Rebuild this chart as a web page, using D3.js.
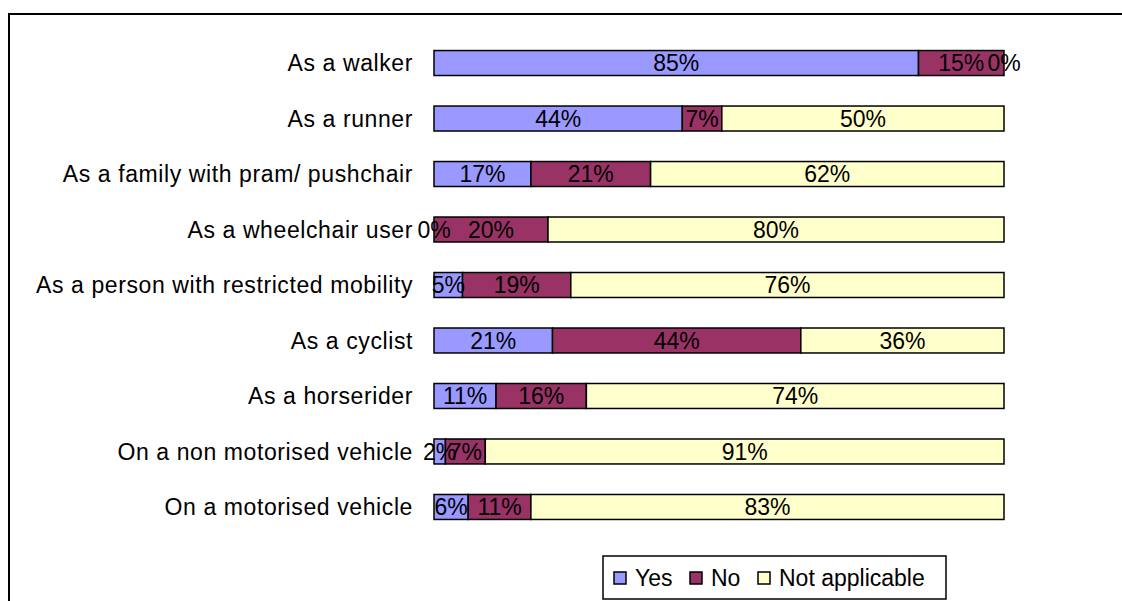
<!DOCTYPE html>
<html>
<head>
<meta charset="utf-8">
<script src="https://cdn.jsdelivr.net/npm/d3@7"></script>
<style>
  body { margin: 0; background: #fff; }
  text { font-family: "Liberation Sans", Arial, sans-serif; }
</style>
</head>
<body>
<svg id="chart" width="1122" height="601"></svg>
<script>
const categories = [
    "As a walker",
    "As a runner",
    "As a family with pram/ pushchair",
    "As a wheelchair user",
    "As a person with restricted mobility",
    "As a cyclist",
    "As a horserider",
    "On a non motorised vehicle",
    "On a motorised vehicle"
];
const yesValues = [85, 44, 17, 0, 5, 21, 11, 2, 6];
const noValues  = [15, 7, 21, 20, 19, 44, 16, 7, 11];
const naValues  = [0, 50, 62, 80, 76, 36, 74, 91, 83];
const seriesNames = ["Yes", "No", "Not applicable"];
const seriesColors = ["#9999FF", "#993366", "#FFFFCC"];

const fontSize = "23px";
const svg = d3.select("#chart");

// outer frame (runs off the right/bottom edge)
svg.append("rect")
    .attr("x", 9).attr("y", 14)
    .attr("width", 1140).attr("height", 620)
    .attr("fill", "none")
    .attr("stroke", "#000")
    .attr("stroke-width", 2);

const rows = categories.map((c, i) => {
    const vals = [yesValues[i], noValues[i], naValues[i]];
    const total = d3.sum(vals);
    let acc = 0;
    const segs = vals.map((v, k) => {
        const s = {cat: c, k: k, v: v, x0: acc / total, x1: (acc + v) / total};
        acc += v;
        return s;
    });
    return {cat: c, segs: segs};
});

const x = d3.scaleLinear().domain([0, 1]).range([434, 1004]);
const y = d3.scaleBand().domain(categories).range([35, 535]).paddingInner(0.55).paddingOuter(0.28);

// category labels
svg.selectAll(".cat-label")
    .data(categories)
    .enter().append("text")
    .attr("class", "cat-label")
    .attr("x", 413)
    .attr("y", d => y(d) + y.bandwidth() / 2)
    .attr("dy", "0.36em")
    .attr("text-anchor", "end")
    .attr("font-size", fontSize)
    .style("letter-spacing", "0.6px")
    .text(d => d);

const rowG = svg.selectAll(".row")
    .data(rows)
    .enter().append("g")
    .attr("class", "row");

rowG.selectAll("rect")
    .data(d => d.segs)
    .enter().append("rect")
    .attr("x", d => x(d.x0))
    .attr("y", d => y(d.cat))
    .attr("width", d => x(d.x1) - x(d.x0))
    .attr("height", y.bandwidth())
    .attr("fill", d => seriesColors[d.k])
    .attr("stroke", "#000")
    .attr("stroke-width", 1.5);

rowG.selectAll("text")
    .data(d => d.segs)
    .enter().append("text")
    .attr("x", d => (x(d.x0) + x(d.x1)) / 2)
    .attr("y", d => y(d.cat) + y.bandwidth() / 2)
    .attr("dy", "0.36em")
    .attr("text-anchor", "middle")
    .attr("font-size", fontSize)
    .text(d => d.v + "%");

// legend
const legend = svg.append("g").attr("transform", "translate(603,556)");
legend.append("rect")
    .attr("width", 343).attr("height", 43)
    .attr("fill", "#fff")
    .attr("stroke", "#000")
    .attr("stroke-width", 1.5);

const legendX = [11, 87, 155];
const items = legend.selectAll(".item")
    .data(seriesNames)
    .enter().append("g")
    .attr("transform", (d, i) => `translate(${legendX[i]},22)`);
items.append("rect")
    .attr("x", 0).attr("y", -6)
    .attr("width", 12).attr("height", 12)
    .attr("fill", (d, i) => seriesColors[i])
    .attr("stroke", "#000")
    .attr("stroke-width", 1.5);
items.append("text")
    .attr("x", 21)
    .attr("dy", "0.36em")
    .attr("font-size", fontSize)
    .text(d => d);
</script>
</body>
</html>
